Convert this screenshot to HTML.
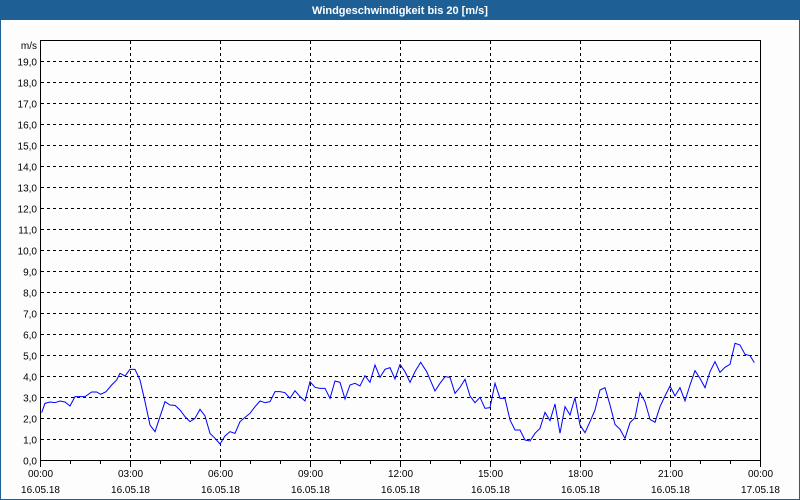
<!DOCTYPE html>
<html><head><meta charset="utf-8"><style>
html,body{margin:0;padding:0;background:#fff}
svg{display:block}
text{font-family:"Liberation Sans","DejaVu Sans",sans-serif;font-size:10px;fill:#000}
</style></head><body>
<svg width="800" height="500" viewBox="0 0 800 500" xmlns="http://www.w3.org/2000/svg">
<rect x="0" y="0" width="800" height="500" fill="#fdfdfd"/>
<rect x="0.5" y="0.5" width="799" height="499" fill="none" stroke="#1e5f96"/>
<rect x="0" y="0" width="800" height="20" fill="#1e5f96"/>
<text x="400" y="14" text-anchor="middle" style="fill:#fff;font-weight:bold;font-size:11px">Windgeschwindigkeit bis 20 [m/s]</text>
<g id="grid" stroke="#000" stroke-width="1" stroke-dasharray="3,3" fill="none"></g>
<g id="labels"></g>
<rect x="40.5" y="40.5" width="720" height="420" fill="none" stroke="#000"/>
<g fill="none" stroke="#0000ff" stroke-width="1">
<polyline id="p1" transform="translate(30,330) scale(0.33333)" vector-effect="non-scaling-stroke" points="35,248 45,220 60,216 75,218 90,213 105,216 120,228 135,200 165,200 185,186 200,186 212,193 228,185 245,165 260,150 270,130 285,138 300,118 315,118 330,150 345,215 360,285 375,305 390,260 405,215 420,225 435,226 450,240 465,260 480,275 495,265 510,238 525,258 540,310 555,325 570,342 585,318 600,305 615,310 630,275 645,262 660,250 675,230 690,213 705,218 720,215 735,185 750,185 765,188 780,205 795,182 810,200 825,213 840,155 855,172 870,175 885,175 900,205 915,153 930,157 945,207 960,165 975,160 990,168 1005,137 1020,157 1035,105 1050,142 1065,118 1080,113 1095,147 1110,103"/>
<polyline id="p2" transform="translate(400,330) scale(0.33333)" vector-effect="non-scaling-stroke" points="0,103 15,125 30,157 45,125 62,97 80,125 105,183 120,160 135,140 150,142 165,190 180,172 195,148 210,198 225,218 240,202 255,235 270,233 285,160 300,205 315,205 330,270 345,300 360,300 375,330 390,333 405,310 420,295 435,247 450,272 465,222 480,310 495,230 510,255 525,203 540,285 555,308 570,275 585,240 600,180 615,173 630,225 645,283 660,298 675,325 690,278 705,263 720,188 735,215 750,268 765,277 780,230 795,198 810,168 825,198 840,173 855,213 870,165 885,122 900,145 915,173 930,125 945,95 960,127 975,112 990,103 1005,40 1020,45 1035,73 1050,77 1063,98"/>
</g>
<script>
var g=document.getElementById('grid'),L=document.getElementById('labels'),ns='http://www.w3.org/2000/svg';
function el(p,t,a,txt){var e=document.createElementNS(ns,t);for(var k in a)e.setAttribute(k,a[k]);if(txt)e.textContent=txt;p.appendChild(e);}
for(var i=0;i<20;i++){var y=460-21*i+0.5;
 if(i>0)el(g,'line',{x1:41,x2:760,y1:y,y2:y});
 el(L,'text',{x:37,y:y+4,'text-anchor':'end'},i+',0');}
el(L,'text',{x:37,y:49,'text-anchor':'end'},'m/s');
var hrs=['00:00','03:00','06:00','09:00','12:00','15:00','18:00','21:00','00:00'];
for(var h=0;h<=24;h++){var x=40+30*h+0.5;
 if(h%3==0){var j=h/3;
  if(h>0&&h<24)el(g,'line',{x1:x,x2:x,y1:41,y2:460});
  el(L,'line',{x1:x,x2:x,y1:460,y2:467,stroke:'#000'});
  el(L,'text',{x:x,y:477,'text-anchor':'middle'},hrs[j]);
  el(L,'text',{x:x,y:493,'text-anchor':'middle'},h==24?'17.05.18':'16.05.18');
 } else el(L,'line',{x1:x,x2:x,y1:460,y2:464,stroke:'#000'});}
</script>
</svg>
</body></html>
